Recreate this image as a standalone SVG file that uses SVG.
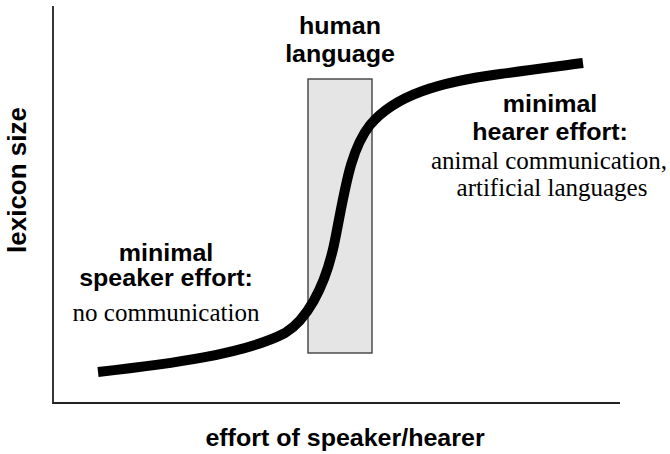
<svg xmlns="http://www.w3.org/2000/svg" width="670" height="454" viewBox="0 0 670 454">
  <style>
    .bold { font-family: "Liberation Sans", Arial, sans-serif; font-weight: bold; font-size: 25px; fill: #000; text-anchor: middle; }
    .serif { font-family: "Liberation Serif", "Times New Roman", serif; font-size: 25px; fill: #000; text-anchor: middle; }
    .axis { stroke: #222; stroke-width: 1.8; fill: none; }
    .curve { stroke: #000; stroke-width: 10; fill: none; stroke-linecap: butt; }
  </style>
  <rect width="670" height="454" fill="#fff"/>

  <!-- axes -->
  <g id="axes">
    <polyline class="axis" points="53,6 53,403 620,403"/>
    <text class="bold" transform="matrix(1 0 0 0.92 345 446)">effort of speaker/hearer</text>
    <text class="bold" style="font-size:26px" transform="translate(26,180) rotate(-90)">lexicon size</text>
  </g>

  <!-- band marking human language -->
  <g id="human-language">
    <rect x="308" y="79" width="64" height="274" fill="#e5e5e5" stroke="#333" stroke-width="1.3"/>
    <text class="bold" transform="matrix(1 0 0 0.92 340 34)">human</text>
    <text class="bold" transform="matrix(1 0 0 0.92 340 62)">language</text>
  </g>

  <!-- lexicon size curve -->
  <g id="connectors">
    <path class="curve" d="M98,372 C170,364 245,354 285,333 C305,321 325,290 335,240 C345,190 350,150 370,125 C395,95 440,82 500,74 C540,69 560,66 583,63"/>
  </g>

  <g id="speaker-effort">
    <text class="bold" transform="matrix(1 0 0 0.92 166 261)">minimal</text>
    <text class="bold" transform="matrix(1 0 0 0.92 166 286)">speaker effort:</text>
    <text class="serif" x="166" y="321">no communication</text>
  </g>

  <g id="hearer-effort">
    <text class="bold" transform="matrix(1 0 0 0.92 550 112)">minimal</text>
    <text class="bold" transform="matrix(1 0 0 0.92 550 140)">hearer effort:</text>
    <text class="serif" x="549" y="169">animal communication,</text>
    <text class="serif" x="552" y="196">artificial languages</text>
  </g>
</svg>
